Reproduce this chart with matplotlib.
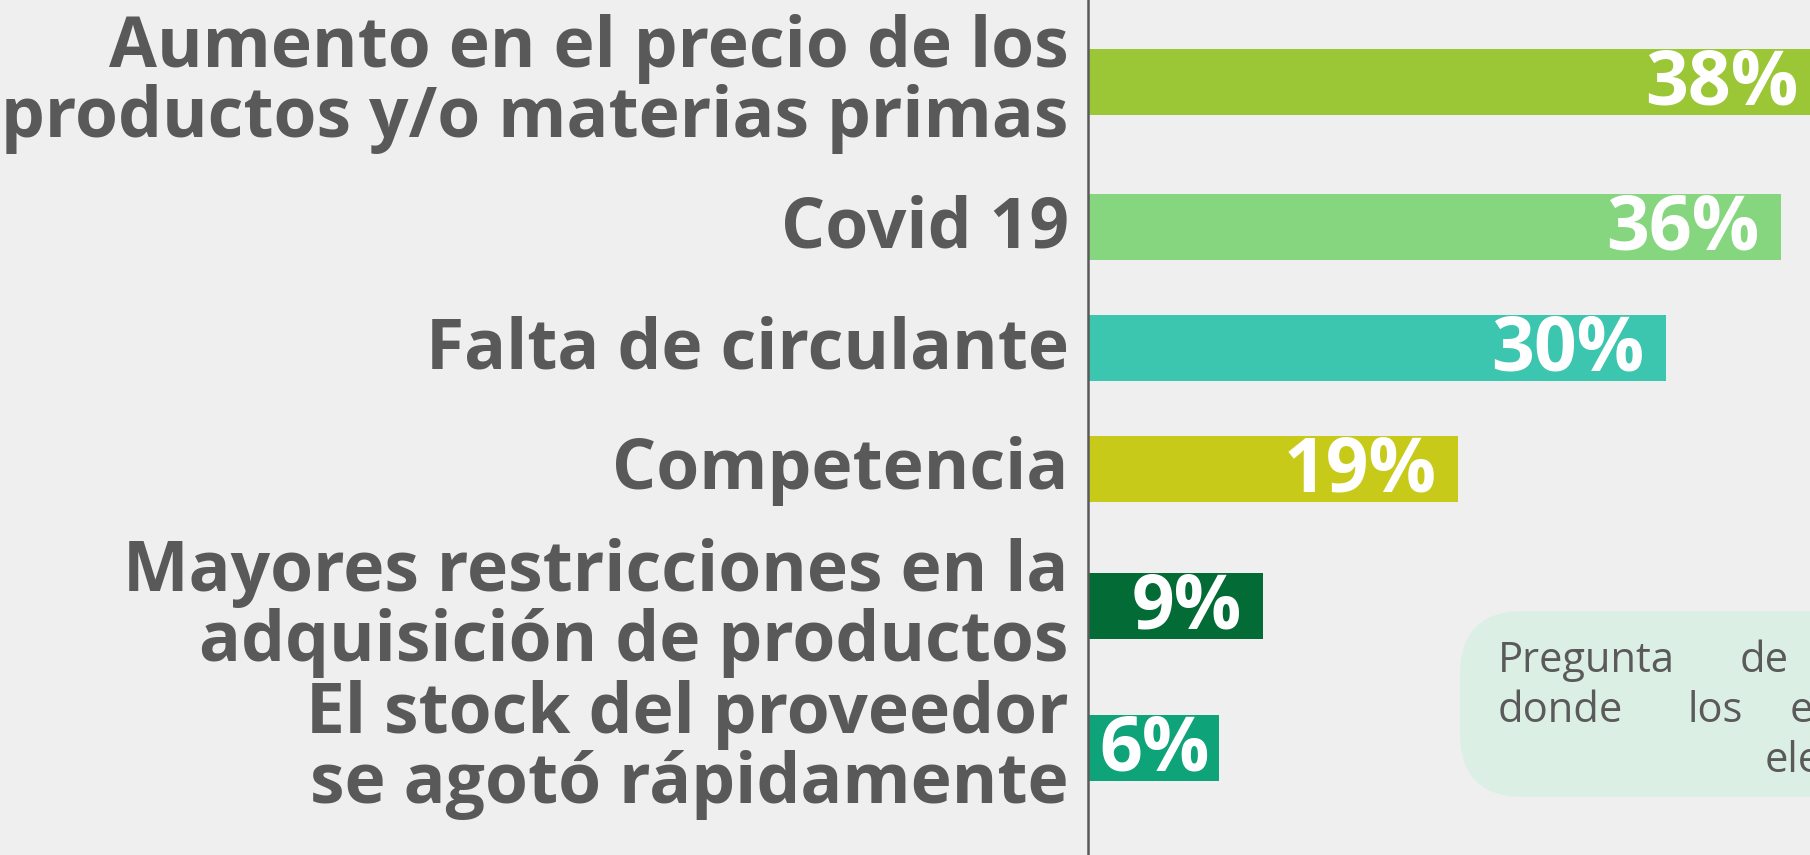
import matplotlib.pyplot as plt
from matplotlib.patches import FancyBboxPatch

# data
categorias = [
    "Aumento en el precio de los\nproductos y/o materias primas",
    "Covid 19",
    "Falta de circulante",
    "Competencia",
    "Mayores restricciones en la\nadquisición de productos",
    "El stock del proveedor\nse agotó rápidamente",
]
# bar lengths as drawn; the printed labels are the rounded figures
porcentajes = [38, 36, 30, 19.2, 9.1, 6.8]
etiquetas = ["38%", "36%", "30%", "19%", "9%", "6%"]
colores = ["#9bc736", "#86d67f", "#3cc6b0", "#c8ca1a", "#036b35", "#0fa37a"]

# layout (pixel rows of the bar centres in the 855 px tall image)
y_pos = [82, 227, 348, 469, 606, 748]
bar_h = 66

W, H = 1810, 855
x0 = 1088
px_per_pct = 19.25

fig = plt.figure(figsize=(W / 100, H / 100), dpi=100)
fig.patch.set_facecolor("#efefef")

ax = fig.add_axes([x0 / W, 0, (W - x0) / W, 1])
ax.set_facecolor("none")
ax.set_xlim(0, (W - x0) / px_per_pct)
ax.set_ylim(H, 0)

ax.barh(y_pos, porcentajes, height=bar_h, color=colores, left=0)

for y, v, lab, txt in zip(y_pos, porcentajes, categorias, etiquetas):
    ax.text(-1.0, y + 2, lab, ha="right", va="center", fontsize=50,
            fontweight="bold", family="Open Sans", color="#595959",
            linespacing=1.0, clip_on=False)
    ax.text(v - 0.5 if v < 8 else v - 1.1, y + 3, txt, ha="right", va="center",
            fontsize=54, fontweight="bold", family="Open Sans", color="white")

for s in ["top", "right", "bottom"]:
    ax.spines[s].set_visible(False)
ax.spines["left"].set_color("#5a5a5a")
ax.spines["left"].set_linewidth(1.8)
ax.set_xticks([])
ax.set_yticks([])

# note box on the right (cut by the image border)
box = FancyBboxPatch((1460 / W, (H - 797) / H), 420 / W, 186 / H,
                     boxstyle="round,pad=0,rounding_size=0.035",
                     transform=fig.transFigure, facecolor="#d6efe2",
                     edgecolor="none", alpha=0.75, mutation_aspect=W / H)
fig.add_artist(box)

nota = [("Pregunta", 1498, 672), ("de", 1740, 672),
        ("donde", 1498, 722), ("los", 1687, 722), ("e", 1790, 722),
        ("ele", 1765, 772)]
for palabra, px, py in nota:
    fig.text(px / W, (H - py) / H, palabra, ha="left", va="baseline",
             fontsize=30, family="Open Sans", color="#5a5a5a")

fig.savefig("out.png", dpi=100, facecolor=fig.get_facecolor())
